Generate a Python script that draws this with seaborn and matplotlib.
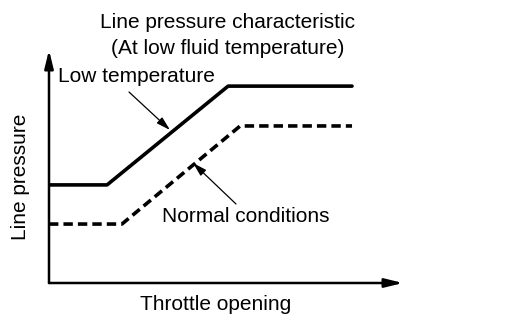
import matplotlib
matplotlib.use("Agg")
import matplotlib.pyplot as plt
import pandas as pd
import seaborn as sns

# Throttle opening (%) vs line pressure (%) for the two operating conditions
low_temp_x = [0, 16.4, 50.6, 85.6]
low_temp_y = [42.1, 42.1, 84.5, 84.5]
normal_x = [0, 20.6, 54.0, 85.6]
normal_y = [25.3, 25.3, 67.4, 67.4]
series_names = ["Low temperature", "Normal conditions"]

df = pd.concat([
    pd.DataFrame({"throttle": low_temp_x, "pressure": low_temp_y, "condition": series_names[0]}),
    pd.DataFrame({"throttle": normal_x, "pressure": normal_y, "condition": series_names[1]}),
])

sns.set_theme(style="white")
plt.rcParams["font.family"] = ["Liberation Sans", "DejaVu Sans"]
plt.rcParams["text.color"] = "black"

W, H = 512, 328
fig = plt.figure(figsize=(W / 100, H / 100), dpi=100)
# plot area: x from 49 to 403 px, y from 50 to 283 px
ax = fig.add_axes([49 / W, 1 - 283 / H, (403 - 49) / W, (283 - 50) / H])
ax.set_xlim(0, 100)
ax.set_ylim(0, 100)

sns.lineplot(data=df, x="throttle", y="pressure", style="condition",
             dashes={series_names[0]: "", series_names[1]: (2.6, 1.4)},
             color="black", linewidth=2.6, legend=False, ax=ax, sort=False)

for s in ["top", "right", "left", "bottom"]:
    ax.spines[s].set_visible(False)
ax.set_xticks([])
ax.set_yticks([])
ax.set_xlabel("")
ax.set_ylabel("")

# axes drawn as arrows
arrow_kw = dict(arrowstyle="-|>,head_length=0.9,head_width=0.22", color="black", lw=1.8,
                shrinkA=0, shrinkB=0)
ax.annotate("", xy=(100, 0), xytext=(0, 0), arrowprops=arrow_kw, annotation_clip=False)
ax.annotate("", xy=(0, 100), xytext=(0, 0), arrowprops=arrow_kw, annotation_clip=False)

fs = 15
tk = dict(ha="center", va="center", fontsize=fs, color="black")
fig.text(228 / W, 1 - 23 / H, "Line pressure characteristic", **tk)
fig.text(228 / W, 1 - 48 / H, "(At low fluid temperature)", **tk)
fig.text(216 / W, 1 - 304 / H, "Throttle opening", **tk)
fig.text(21 / W, 1 - 177 / H, "Line pressure", rotation=90, **tk)

def px(x, y):
    return ((x - 49) / 354 * 100, (283 - y) / 233 * 100)

thin = dict(arrowstyle="-|>,head_length=0.7,head_width=0.2", color="black", lw=0.9,
            shrinkA=0, shrinkB=0)
ax.annotate(series_names[0], xy=px(170, 130), xytext=px(58, 76), ha="left", va="center",
            fontsize=fs, color="black", annotation_clip=False)
ax.annotate("", xy=px(170, 130), xytext=px(129, 92), arrowprops=thin, annotation_clip=False)
ax.annotate(series_names[1], xy=px(193, 163), xytext=px(162, 217), ha="left", va="center",
            fontsize=fs, color="black", annotation_clip=False)
ax.annotate("", xy=px(193, 163), xytext=px(236, 204), arrowprops=thin, annotation_clip=False)

fig.savefig("out.png", dpi=100, facecolor="white")
